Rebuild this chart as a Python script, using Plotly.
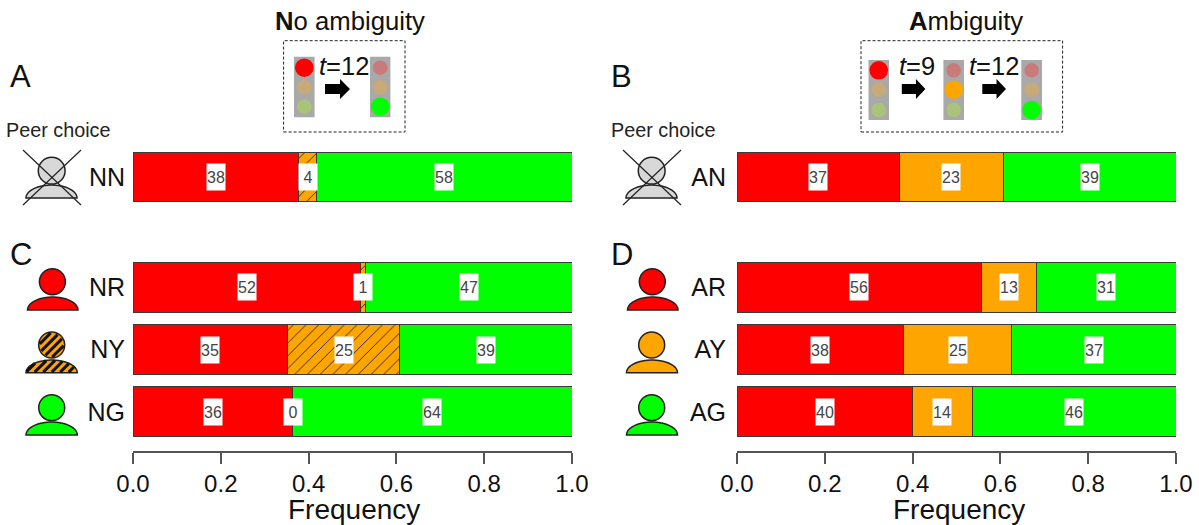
import numpy as np
import plotly.graph_objects as go

W, H = 1199, 525
RED, ORANGE, GREEN = "#ff0000", "#ffa500", "#00ff00"
DIM_RED, DIM_ORANGE, DIM_GREEN = "#c97b7b", "#c8aa78", "#a9c47a"
INK = "#111111"
EDGE = "#3a3a3a"
FONT = "Liberation Sans"

# Data
top_left_cat = ["NN"]
top_left_red = [0.377]
top_left_orange = [0.041]
top_left_green = [0.582]
top_left_labels = [["38"], ["4"], ["58"]]

top_right_cat = ["AN"]
top_right_red = [0.371]
top_right_orange = [0.235]
top_right_green = [0.394]
top_right_labels = [["37"], ["23"], ["39"]]

bottom_left_cat = ["NR", "NY", "NG"]
bottom_left_red = [0.519, 0.353, 0.364]
bottom_left_orange = [0.011, 0.253, 0.0]
bottom_left_green = [0.470, 0.394, 0.636]
bottom_left_labels = [["52", "35", "36"], ["1", "25", "0"], ["47", "39", "64"]]

bottom_right_cat = ["AR", "AY", "AG"]
bottom_right_red = [0.558, 0.380, 0.400]
bottom_right_orange = [0.125, 0.245, 0.136]
bottom_right_green = [0.317, 0.375, 0.464]
bottom_right_labels = [["56", "38", "40"], ["13", "25", "14"], ["31", "37", "46"]]

x_ticks = [0.0, 0.2, 0.4, 0.6, 0.8, 1.0]
x_ticklabels = ["0.0", "0.2", "0.4", "0.6", "0.8", "1.0"]


def px(x):
    return x / W


def py(y):
    return 1 - y / H


fig = go.Figure()
shapes = []
annotations = []

panels = [
    ("x", "y", top_left_cat, top_left_red, top_left_orange, top_left_green, top_left_labels, True),
    ("x2", "y2", top_right_cat, top_right_red, top_right_orange, top_right_green, top_right_labels, False),
    ("x3", "y3", bottom_left_cat, bottom_left_red, bottom_left_orange, bottom_left_green, bottom_left_labels, True),
    ("x4", "y4", bottom_right_cat, bottom_right_red, bottom_right_orange, bottom_right_green, bottom_right_labels, False),
]

for xa, ya, cats, red, orange, green, labels, hatched in panels:
    series = [(red, RED, False), (orange, ORANGE, hatched), (green, GREEN, False)]
    for vals, col, hatch in series:
        marker = dict(color=col, line=dict(color=EDGE, width=1))
        if hatch:
            marker["pattern"] = dict(shape="/", fgcolor="#222222", bgcolor=ORANGE,
                                     size=9, solidity=0.1, fillmode="replace")
        fig.add_trace(go.Bar(x=vals, y=cats, orientation="h", marker=marker, width=0.8,
                             xaxis=xa, yaxis=ya, showlegend=False, hoverinfo="skip"))
    for i, cat in enumerate(cats):
        r, o, g = red[i], orange[i], green[i]
        mids = [r / 2, r + o / 2, r + o + g / 2]
        for mid, lab in zip(mids, [labels[0][i], labels[1][i], labels[2][i]]):
            annotations.append(dict(x=mid, y=cat, xref=xa, yref=ya, text=lab, showarrow=False,
                                    bgcolor="white", width=18, height=26, borderpad=0,
                                    font=dict(family=FONT, size=16, color="#444444"),
                                    xanchor="center", yanchor="middle"))


def text(x, y, s, size, anchor="center", color=INK):
    annotations.append(dict(x=px(x), y=py(y), xref="paper", yref="paper", text=s, showarrow=False,
                            xanchor=anchor, yanchor="middle", borderpad=0,
                            font=dict(family=FONT, size=size, color=color)))


def circle(cx, cy, r, fill, line="rgba(0,0,0,0)", lw=0):
    shapes.append(dict(type="circle", xref="paper", yref="paper",
                       x0=px(cx - r), x1=px(cx + r), y0=py(cy + r), y1=py(cy - r),
                       fillcolor=fill, line=dict(color=line, width=lw), layer="above"))


def rect(x0, y0, x1, y1, fill="rgba(0,0,0,0)", line="rgba(0,0,0,0)", lw=0, dash="solid"):
    shapes.append(dict(type="rect", xref="paper", yref="paper",
                       x0=px(x0), x1=px(x1), y0=py(y1), y1=py(y0),
                       fillcolor=fill, line=dict(color=line, width=lw, dash=dash), layer="above"))


def seg(x0, y0, x1, y1, color="#222222", lw=1.2):
    shapes.append(dict(type="line", xref="paper", yref="paper",
                       x0=px(x0), x1=px(x1), y0=py(y0), y1=py(y1),
                       line=dict(color=color, width=lw), layer="above"))


def poly(points, fill):
    d = "M " + " L ".join(f"{px(a):.5f},{py(b):.5f}" for a, b in points) + " Z"
    shapes.append(dict(type="path", xref="paper", yref="paper", path=d, fillcolor=fill,
                       line=dict(color="rgba(0,0,0,0)", width=0), layer="above"))


def dome(x0, x1, ytop, ybot, fill, lw=1.5):
    cx = (x0 + x1) / 2
    a = (x1 - x0) / 2
    b = ybot - ytop
    t = np.linspace(np.pi, 0, 30)
    pts = [(cx + a * np.cos(v), ybot - b * np.sin(v)) for v in t]
    d = "M " + " L ".join(f"{px(p):.5f},{py(q):.5f}" for p, q in pts) + " Z"
    shapes.append(dict(type="path", xref="paper", yref="paper", path=d, fillcolor=fill,
                       line=dict(color="#222222", width=lw), layer="above"))


def person(cx, cy, r, x0, x1, ytop, ybot, fill):
    dome(x0, x1, ytop, ybot, fill)
    circle(cx, cy, r, fill, "#222222", 1.5)


def hatch_person(cx, cy, r, x0, x1, ytop, ybot):
    person(cx, cy, r, x0, x1, ytop, ybot, ORANGE)
    bx, a, b = (x0 + x1) / 2, (x1 - x0) / 2, ybot - ytop

    def head(u, v):
        return (u - cx) ** 2 + (v - cy) ** 2 <= (r - 1) ** 2

    def body(u, v):
        return v <= ybot - 0.5 and ((u - bx) / a) ** 2 + ((v - ybot) / b) ** 2 <= 0.96

    for inside, c0, c1 in [(head, cx + cy - 30, cx + cy + 30), (body, bx + ybot - 60, bx + ybot + 50)]:
        for c in np.arange(c0, c1, 8.5):
            us = np.linspace(x0 - 5, x1 + 5, 700)
            keep = [(u, c - u) for u in us if inside(u, c - u)]
            if len(keep) > 1:
                seg(keep[0][0], keep[0][1], keep[-1][0], keep[-1][1], "#111111", 3)


def light(x0, x1, y0, y1, cys, on):
    rect(x0, y0, x1, y1, fill="#a9a9a9")
    cx = (x0 + x1) / 2
    dims = [DIM_RED, DIM_ORANGE, DIM_GREEN]
    brights = [RED, ORANGE, GREEN]
    for i, cy in enumerate(cys):
        if i == on:
            circle(cx, cy, 9.3, brights[i])
        else:
            circle(cx, cy, 7.3, dims[i])


def arrow(x0, x1, cy):
    xm = x0 + (x1 - x0) * 0.6
    poly([(x0, cy - 5), (xm, cy - 5), (xm, cy - 10), (x1, cy), (xm, cy + 10), (xm, cy + 5), (x0, cy + 5)], "black")


def cross_person(off):
    person(51.7 + off, 170.7, 13.4, 26 + off, 77 + off, 185, 198, "#d8d8d8")
    seg(23 + off, 150, 81 + off, 205)
    seg(81 + off, 150, 23 + off, 205)


# Persons
cross_person(0)
cross_person(600)
person(52.4, 281.7, 13, 27.5, 78, 297, 310, RED)
hatch_person(51.7, 345, 13, 26, 77.3, 360, 372.7)
person(51.7, 407.7, 13, 26, 77.3, 422, 435, GREEN)
person(652.3, 281.7, 13, 627.5, 678, 297, 310, RED)
person(651.7, 345, 13, 626.5, 677.5, 360, 372.7, ORANGE)
person(651.7, 407.7, 13, 626.5, 677.5, 422, 435, GREEN)

# Legend boxes of traffic lights
rect(283.6, 40.7, 405, 132, line="#222222", lw=1, dash="3px,2px")
rect(861, 40.7, 1062.6, 132, line="#222222", lw=1, dash="3px,2px")
cy_left = [67.7, 87.3, 106.7]
cy_right = [70.3, 89.7, 110]
light(294, 314.6, 56.7, 117.3, cy_left, 0)
light(370, 390.4, 56.7, 117.3, cy_left, 2)
light(868.5, 889, 60, 120, cy_right, 0)
light(943.4, 964, 60, 120, cy_right, 1)
light(1021.3, 1042, 60, 120, cy_right, 2)
arrow(325, 350, 89)
arrow(901.8, 925.4, 89)
arrow(982.3, 1006, 89)

# Text
text(350, 21, "<b>N</b>o ambiguity", 25.7)
text(966, 21, "<b>A</b>mbiguity", 25.7)
text(343.5, 65.7, "<i>t</i>=12", 25.5)
text(917, 65.7, "<i>t</i>=9", 25.5)
text(993.6, 65.7, "<i>t</i>=12", 25.5)
text(5, 130, "Peer choice", 19.8, "left", "#222222")
text(610, 130, "Peer choice", 19.8, "left", "#222222")
text(9, 76, "A", 31, "left")
text(610, 76, "B", 31, "left")
text(9, 254, "C", 31, "left")
text(610, 254, "D", 31, "left")
text(354, 509, "Frequency", 28)
text(959, 509, "Frequency", 28)

X_L = [px(133), px(572)]
X_R = [px(737), px(1176)]
D_TOP = [py(208), py(146)]
D_BOT = [py(443), py(256)]


def xax(domain, anchor, visible):
    d = dict(domain=domain, range=[0, 1], anchor=anchor, showgrid=False, zeroline=False, fixedrange=True,
             automargin=False)
    if visible:
        d.update(anchor="free", position=py(452), showline=True, linecolor="#555555", linewidth=1.5,
                 ticks="outside", ticklen=11, tickwidth=1.5, tickcolor="#555555",
                 tickmode="array", tickvals=x_ticks, ticktext=x_ticklabels, ticklabelstandoff=-1,
                 tickfont=dict(family=FONT, size=24, color=INK))
    else:
        d.update(visible=False)
    return d


def yax(domain, anchor, cats, standoff):
    return dict(domain=domain, anchor=anchor, type="category", categoryorder="array", categoryarray=cats,
                autorange="reversed", showgrid=False, zeroline=False, showline=False, ticks="",
                ticklabelstandoff=standoff, tickfont=dict(family=FONT, size=25, color=INK), fixedrange=True,
                automargin=False)


fig.update_layout(
    width=W, height=H, autosize=False, margin=dict(l=0, r=0, t=0, b=0),
    paper_bgcolor="white", plot_bgcolor="white", barmode="stack", showlegend=False,
    xaxis=xax(X_L, "y", False), yaxis=yax(D_TOP, "x", top_left_cat, 7),
    xaxis2=xax(X_R, "y2", False), yaxis2=yax(D_TOP, "x2", top_right_cat, 10),
    xaxis3=xax(X_L, "y3", True), yaxis3=yax(D_BOT, "x3", bottom_left_cat, 7),
    xaxis4=xax(X_R, "y4", True), yaxis4=yax(D_BOT, "x4", bottom_right_cat, 10),
    shapes=shapes, annotations=annotations,
)

fig.write_html("out.html", config={"displayModeBar": False},
               post_script="document.body.style.margin='0';document.body.style.overflow='hidden';")
